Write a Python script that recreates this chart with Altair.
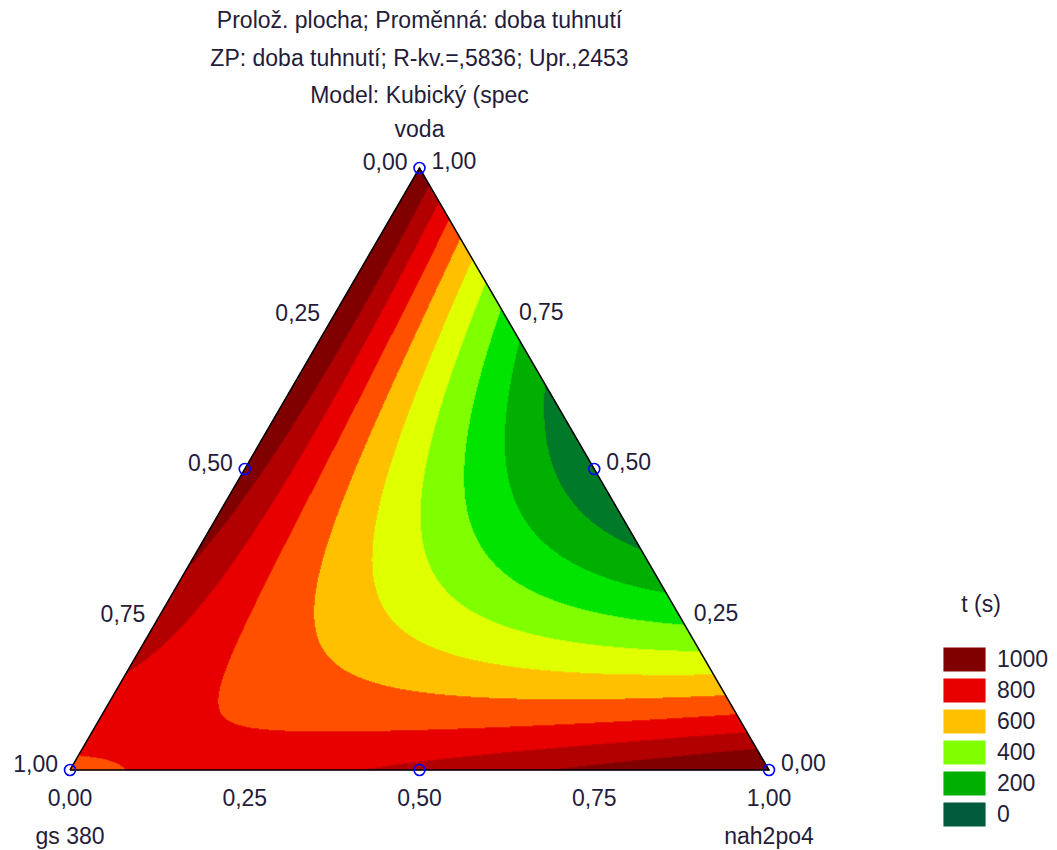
import numpy as np
import pandas as pd
import altair as alt

alt.data_transformers.disable_max_rows()

# Fitted Scheffé special cubic model for "doba tuhnutí" (t, s)
# components: x1 = gs 380, x2 = nah2po4, x3 = voda
b_linear = [680.0, 1040.0, 1010.0]   # b1, b2, b3
b_pairs = [-121.0, 500.0, -4000.0]   # b12, b13, b23
b_triple = -2370.0                   # b123

# contour levels (upper bound of each band) and their colours
level_labels = ["1000", "900", "800", "700", "600", "500", "400", "300", "200", "100", "0"]
level_colors = ["#800000", "#b40000", "#e80000", "#ff5000", "#ffc000", "#e0ff00",
                "#80ff00", "#00e400", "#00b000", "#007a2a", "#005a3c"]
legend_shown = ["1000", "800", "600", "400", "200", "0"]
legend_title = "t (s)"

# ternary axis ticks
tick_values = [0.0, 0.25, 0.5, 0.75, 1.0]
tick_labels = ["0,00", "0,25", "0,50", "0,75", "1,00"]

# experimental design points (gs 380, nah2po4, voda)
design_gs = [1.0, 0.0, 0.0, 0.5, 0.5, 0.0]
design_nah = [0.0, 1.0, 0.0, 0.5, 0.0, 0.5]
design_voda = [0.0, 0.0, 1.0, 0.0, 0.5, 0.5]

component_names = ["gs 380", "nah2po4", "voda"]

title_lines = [
    "Prolož. plocha; Proměnná: doba tuhnutí",
    "ZP: doba tuhnutí; R-kv.=,5836; Upr.,2453",
    "Model: Kubický (spec",
]

FONT = "Liberation Sans"
TXT = "#241c3a"
FS = 23


def model(x1, x2, x3):
    return (b_linear[0] * x1 + b_linear[1] * x2 + b_linear[2] * x3
            + b_pairs[0] * x1 * x2 + b_pairs[1] * x1 * x3 + b_pairs[2] * x2 * x3
            + b_triple * x1 * x2 * x3)


def to_xy(gs, nah, voda):
    # barycentric -> cartesian (X across the base, Y = voda fraction upwards)
    return nah + voda / 2.0, voda


# evaluate the model on a raster and merge equal neighbours of each row into strips
n_rows, n_cols = 602, 699
cells = []
for r in range(n_rows):
    y0, y1 = r / n_rows, (r + 1) / n_rows
    yc = (r + 0.5) / n_rows
    lo, hi = yc / 2.0, 1.0 - yc / 2.0
    xc = (np.arange(n_cols) + 0.5) / n_cols
    inside = (xc >= lo) & (xc <= hi)
    if not inside.any():
        continue
    idx = np.where(inside)[0]
    xs = xc[idx]
    x3 = np.full_like(xs, yc)
    x2 = xs - yc / 2.0
    x1 = 1.0 - x2 - x3
    v = model(x1, x2, x3)
    band = np.clip(np.ceil(v / 100.0) * 100.0, 0, 1000).astype(int)
    start = 0
    for k in range(1, len(idx) + 1):
        if k == len(idx) or band[k] != band[start]:
            left = lo if start == 0 else idx[start] / n_cols
            right = hi if k == len(idx) else idx[k] / n_cols
            cells.append((left, right, y0, y1, str(band[start])))
            start = k

surface = pd.DataFrame(cells, columns=["xa", "xb", "ya", "yb", "level"])

xs_scale = alt.Scale(domain=[0, 1], nice=False, zero=False)
ys_scale = alt.Scale(domain=[0, 1], nice=False, zero=False)
color_scale = alt.Scale(domain=level_labels, range=level_colors)

contours = alt.Chart(surface).mark_rect(strokeWidth=0.6).encode(
    x=alt.X("xa:Q", scale=xs_scale, axis=None),
    x2="xb:Q",
    y=alt.Y("ya:Q", scale=ys_scale, axis=None),
    y2="yb:Q",
    fill=alt.Fill(
        "level:N", scale=color_scale,
        legend=alt.Legend(
            title=None, values=legend_shown, orient="none",
            legendX=882, legendY=479, padding=0,
            # wide swatch drawn on a small nominal symbol so rows stay compact
            symbolType="M-1.78,-1H1.78V1H-1.78Z", symbolSize=529,
            symbolStrokeColor="#222222", symbolStrokeWidth=1.2, symbolOpacity=1,
            labelFont=FONT, labelFontSize=FS, labelColor=TXT, labelOffset=20,
            rowPadding=2,
        ),
    ),
    stroke=alt.Stroke("level:N", scale=color_scale, legend=None),
)

# heading above the colour legend
legend_heading = alt.Chart(pd.DataFrame({"t": [legend_title]})).mark_text(
    font=FONT, fontSize=FS, color=TXT, align="center", baseline="middle"
).encode(x=alt.value(911), y=alt.value(437), text="t:N")

# triangle outline
corners = [to_xy(1, 0, 0), to_xy(0, 1, 0), to_xy(0, 0, 1), to_xy(1, 0, 0)]
outline_df = pd.DataFrame({"X": [c[0] for c in corners], "Y": [c[1] for c in corners],
                           "o": list(range(len(corners)))})
outline = alt.Chart(outline_df).mark_line(color="black", strokeWidth=1.5).encode(
    x=alt.X("X:Q", scale=xs_scale, axis=None),
    y=alt.Y("Y:Q", scale=ys_scale, axis=None),
    order="o:Q",
)

# design points
pts = [to_xy(g, n, w) for g, n, w in zip(design_gs, design_nah, design_voda)]
pts_df = pd.DataFrame({"X": [p[0] for p in pts], "Y": [p[1] for p in pts]})
points = alt.Chart(pts_df).mark_point(
    shape="circle", filled=False, color="#0000ff", size=120, strokeWidth=1.6, opacity=1
).encode(
    x=alt.X("X:Q", scale=xs_scale, axis=None),
    y=alt.Y("Y:Q", scale=ys_scale, axis=None),
)

# tick labels on the three edges
left_df = pd.DataFrame({
    "X": [to_xy(g, 0, 1 - g)[0] for g in tick_values],
    "Y": [to_xy(g, 0, 1 - g)[1] for g in tick_values],
    "t": tick_labels,
})
right_df = pd.DataFrame({
    "X": [to_xy(0, 1 - t, t)[0] for t in tick_values],
    "Y": [to_xy(0, 1 - t, t)[1] for t in tick_values],
    "t": tick_labels,
})
bottom_df = pd.DataFrame({
    "X": [to_xy(1 - n, n, 0)[0] for n in tick_values],
    "Y": [to_xy(1 - n, n, 0)[1] for n in tick_values],
    "t": tick_labels,
})


def text_layer(df, **kw):
    return alt.Chart(df).mark_text(font=FONT, fontSize=FS, color=TXT, baseline="middle", **kw).encode(
        x=alt.X("X:Q", scale=xs_scale, axis=None),
        y=alt.Y("Y:Q", scale=ys_scale, axis=None),
        text="t:N",
    )


left_labels = text_layer(left_df, align="right", dx=-12, dy=-5)
right_labels = text_layer(right_df, align="left", dx=12, dy=-6)
bottom_labels = text_layer(bottom_df, align="center", dy=29)

base_names = pd.DataFrame({
    "X": [to_xy(1, 0, 0)[0], to_xy(0, 1, 0)[0]],
    "Y": [to_xy(1, 0, 0)[1], to_xy(0, 1, 0)[1]],
    "t": component_names[:2],
})
top_name = pd.DataFrame({"X": [to_xy(0, 0, 1)[0]], "Y": [to_xy(0, 0, 1)[1]], "t": [component_names[2]]})
base_labels = text_layer(base_names, align="center", dy=67)
top_label = text_layer(top_name, align="center", dy=-38)

chart = alt.layer(
    contours, outline, points, left_labels, right_labels, bottom_labels, base_labels, top_label,
    legend_heading,
).properties(
    width=699,
    height=602,
    autosize=alt.AutoSizeParams(type="none"),
    padding={"left": 70, "top": 168, "right": 288, "bottom": 80},
    title=alt.TitleParams(
        text=title_lines, font=FONT, fontSize=FS, fontWeight="normal", color=TXT,
        anchor="middle", frame="group", lineHeight=37.5, offset=11,
    ),
).configure_view(stroke=None)

chart.save("out.html", embed_options={"renderer": "svg", "actions": False})
